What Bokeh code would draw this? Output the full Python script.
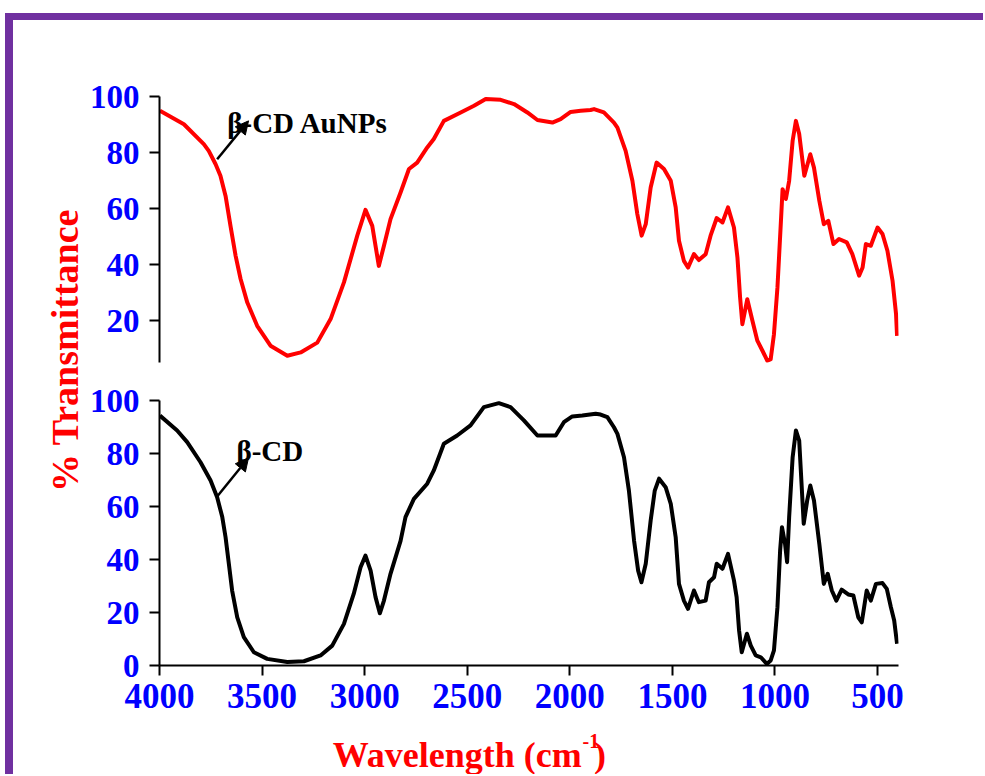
import math
from bokeh.plotting import figure
from bokeh.layouts import column, row
from bokeh.models import Div, Spacer, Range1d, Label, Arrow, NormalHead, FixedTicker
from bokeh.embed import file_html
from bokeh.resources import INLINE

# ---------------- data ----------------
aunp_wn = [3998, 3881, 3784, 3760, 3727, 3703, 3678, 3654, 3629, 3605, 3572, 3524, 3459, 3377,
           3312, 3231, 3166, 3101, 3036, 2996, 2963, 2931, 2906, 2874, 2825, 2784, 2744, 2695,
           2663, 2614, 2532, 2467, 2410, 2337, 2272, 2207, 2158, 2085, 2045, 1996, 1947, 1899,
           1882, 1834, 1785, 1768, 1728, 1695, 1671, 1650, 1630, 1606, 1577, 1541, 1508, 1484,
           1468, 1444, 1424, 1395, 1371, 1338, 1314, 1284, 1256, 1229, 1200, 1183, 1170, 1159,
           1135, 1110, 1086, 1061, 1037, 1021, 1005, 988, 971, 963, 947, 931, 914, 898, 882,
           857, 828, 810, 784, 762, 740, 715, 688, 650, 623, 590, 573, 557, 533, 500, 476, 452,
           427, 410, 405]
aunp_t = [94.9, 90.1, 83.0, 80.6, 75.9, 71.7, 64.5, 53.8, 43.1, 34.9, 26.4, 18.1, 11.0, 7.4,
          8.6, 12.1, 20.5, 33.6, 50.3, 59.5, 53.8, 39.5, 46.7, 56.2, 65.7, 74.1, 76.4, 81.8,
          84.8, 91.3, 94.3, 96.7, 99.1, 98.8, 97.3, 94.3, 91.6, 90.7, 91.9, 94.5, 94.9, 95.2,
          95.5, 94.3, 90.7, 88.9, 80.6, 69.9, 58.0, 50.3, 54.4, 67.5, 76.4, 74.1, 69.9, 60.4,
          48.5, 41.3, 38.9, 43.7, 41.6, 43.7, 50.3, 56.6, 55.0, 60.4, 53.2, 42.5, 28.2, 18.7,
          27.6, 19.9, 12.8, 9.2, 5.6, 6.2, 15.1, 31.8, 55.6, 66.9, 63.4, 69.9, 84.2, 91.3, 86.6,
          71.7, 79.4, 74.6, 62.8, 54.4, 55.6, 47.3, 49.1, 47.9, 43.7, 36.0, 38.9, 47.3, 46.7,
          53.2, 50.9, 44.9, 34.2, 22.3, 14.5]

cd_wn = [3998, 3914, 3865, 3800, 3751, 3719, 3694, 3678, 3662, 3646, 3621, 3589, 3540, 3475,
         3377, 3296, 3215, 3158, 3101, 3053, 3020, 2996, 2971, 2947, 2926, 2906, 2874, 2825,
         2801, 2760, 2695, 2663, 2614, 2549, 2484, 2419, 2346, 2289, 2224, 2158, 2069, 2029,
         1988, 1939, 1874, 1850, 1817, 1785, 1768, 1736, 1712, 1687, 1667, 1651, 1630, 1606,
         1586, 1565, 1533, 1508, 1484, 1468, 1444, 1424, 1395, 1371, 1338, 1322, 1297, 1284,
         1256, 1229, 1200, 1187, 1175, 1162, 1137, 1118, 1094, 1069, 1040, 1021, 1005, 988,
         975, 966, 951, 941, 931, 914, 898, 882, 860, 843, 828, 810, 784, 762, 743, 723, 701,
         675, 643, 618, 594, 577, 553, 533, 508, 476, 455, 435, 419, 405]
cd_t = [94.3, 88.7, 84.3, 76.7, 69.8, 63.5, 56.0, 48.4, 38.4, 28.3, 18.2, 10.7, 5.0, 2.5,
        1.3, 1.6, 3.8, 7.5, 15.7, 27.1, 37.1, 41.5, 35.8, 25.8, 19.7, 24.5, 34.6, 47.0,
        56.0, 62.9, 68.6, 73.6, 83.7, 86.8, 90.6, 97.5, 99.0, 97.5, 92.5, 86.8, 86.8, 91.8,
        94.0, 94.3, 95.0, 94.7, 93.7, 89.9, 87.4, 78.6, 66.0, 47.2, 35.8, 31.4, 38.4, 54.7,
        66.0, 70.5, 67.3, 61.0, 48.4, 30.8, 24.5, 21.4, 28.3, 23.9, 24.5, 31.4, 33.3, 38.4,
        36.5, 42.1, 32.1, 25.8, 13.2, 5.0, 12.0, 7.5, 3.8, 3.1, 0.6, 1.9, 5.7, 22.0,
        43.4, 52.2, 45.9, 39.0, 56.0, 78.6, 88.7, 84.9, 53.5, 62.3, 67.9, 62.3, 45.9, 30.8, 34.6, 28.3, 24.5,
        28.6, 26.8, 26.4, 18.2, 16.3, 28.3, 24.5, 30.8, 31.1, 28.9, 22.0, 17.0, 8.2]

x_ticks = [4000, 3500, 3000, 2500, 2000, 1500, 1000, 500]
top_y_ticks = [20, 40, 60, 80, 100]
bot_y_ticks = [0, 20, 40, 60, 80, 100]

FONT = "Liberation Serif"
PURPLE = "#7030A0"
BLUE = "#0000FF"
RED = "#FF0000"

xr = Range1d(4000, 398)


def style_common(p):
    p.outline_line_color = None
    p.xgrid.visible = False
    p.ygrid.visible = False
    p.background_fill_color = "white"
    p.border_fill_color = "white"


def style_axis(ax, size):
    ax.axis_line_width = 2
    ax.axis_line_color = "black"
    ax.major_tick_line_width = 2
    ax.major_tick_line_color = "black"
    ax.major_tick_out = 10
    ax.major_tick_in = 0
    ax.minor_tick_line_color = None
    ax.major_label_text_font = FONT
    ax.major_label_text_font_style = "bold"
    ax.major_label_text_color = BLUE
    ax.major_label_text_font_size = size


FIG_W = 898

# ---------------- top panel ----------------
top = figure(width=FIG_W, height=350, x_range=xr, y_range=Range1d(5, 100),
             output_backend="svg", toolbar_location=None, x_axis_location=None,
             min_border_left=74, min_border_right=85, min_border_top=76, min_border_bottom=8)
style_common(top)
top.line(aunp_wn, aunp_t, line_color=RED, line_width=4, line_join="round")
style_axis(top.yaxis[0], "33px")
top.yaxis[0].ticker = FixedTicker(ticks=top_y_ticks)
top.yaxis[0].major_label_standoff = 10
top.add_layout(Label(x=3670, y=90.7, text="β-CD AuNPs", text_font=FONT, text_font_style="bold",
                     text_font_size="29px", text_color="black", text_baseline="alphabetic"))
top.add_layout(Arrow(end=NormalHead(size=13, fill_color="black", line_color="black", line_width=1),
                     x_start=3719, y_start=77.6, x_end=3566, y_end=91.3,
                     line_color="black", line_width=2.5))

# ---------------- bottom panel ----------------
bot = figure(width=FIG_W, height=360, x_range=xr, y_range=Range1d(0, 100),
             output_backend="svg", toolbar_location=None,
             min_border_left=74, min_border_right=85, min_border_top=30, min_border_bottom=65)
style_common(bot)
bot.line(cd_wn, cd_t, line_color="black", line_width=4, line_join="round")
style_axis(bot.yaxis[0], "33px")
bot.yaxis[0].ticker = FixedTicker(ticks=bot_y_ticks)
bot.yaxis[0].major_label_standoff = 10
style_axis(bot.xaxis[0], "35px")
bot.xaxis[0].ticker = FixedTicker(ticks=x_ticks)
bot.xaxis[0].major_label_standoff = 8
bot.add_layout(Label(x=3625, y=80.8, text="β-CD", text_font=FONT, text_font_style="bold",
                     text_font_size="29px", text_color="black", text_baseline="alphabetic"))
bot.add_layout(Arrow(end=NormalHead(size=13, fill_color="black", line_color="black", line_width=1),
                     x_start=3719, y_start=63.8, x_end=3566, y_end=78.4,
                     line_color="black", line_width=2.5))

# ---------------- x title strip (page-pixel coordinates) ----------------
xlab = figure(width=FIG_W, height=44, x_range=Range1d(85, 85 + FIG_W), y_range=Range1d(774, 730),
              output_backend="svg", toolbar_location=None, x_axis_location=None,
              y_axis_location=None, min_border=0)
style_common(xlab)
xlab.add_layout(Label(x=598, y=754, text="Wavelength (cm", text_font=FONT, text_font_style="bold",
                      text_font_size="36px", text_color=RED, text_align="right",
                      text_baseline="alphabetic"))
xlab.add_layout(Label(x=599, y=740, text="-1", text_font=FONT, text_font_style="bold",
                      text_font_size="20px", text_color=RED, text_align="left",
                      text_baseline="alphabetic"))
xlab.add_layout(Label(x=613, y=754, text=")", text_font=FONT, text_font_style="bold",
                      text_font_size="36px", text_color=RED, text_align="left",
                      text_baseline="alphabetic"))

# ---------------- y title strip (page-pixel coordinates) ----------------
lab = figure(width=72, height=754, x_range=Range1d(13, 85), y_range=Range1d(774, 20),
             output_backend="svg", toolbar_location=None, x_axis_location=None,
             y_axis_location=None, min_border=0)
style_common(lab)
lab.add_layout(Label(x=64, y=350, text="% Transmittance", angle=math.pi / 2,
                     text_font=FONT, text_font_style="bold", text_font_size="38px",
                     text_color=RED, text_align="center", text_baseline="middle"))

# ---------------- frame (purple border) ----------------
topbar = Div(text="", width=970, height=7, margin=0, styles={"background-color": PURPLE})
leftbar = Div(text="", width=8, height=761, margin=0, styles={"background-color": PURPLE})

inner = row(lab, column(top, bot, xlab))
right = column(topbar, inner)
layout = column(Spacer(width=10, height=13), row(Spacer(width=5, height=10), leftbar, right))

open("out.html", "w").write(file_html(layout, INLINE))
